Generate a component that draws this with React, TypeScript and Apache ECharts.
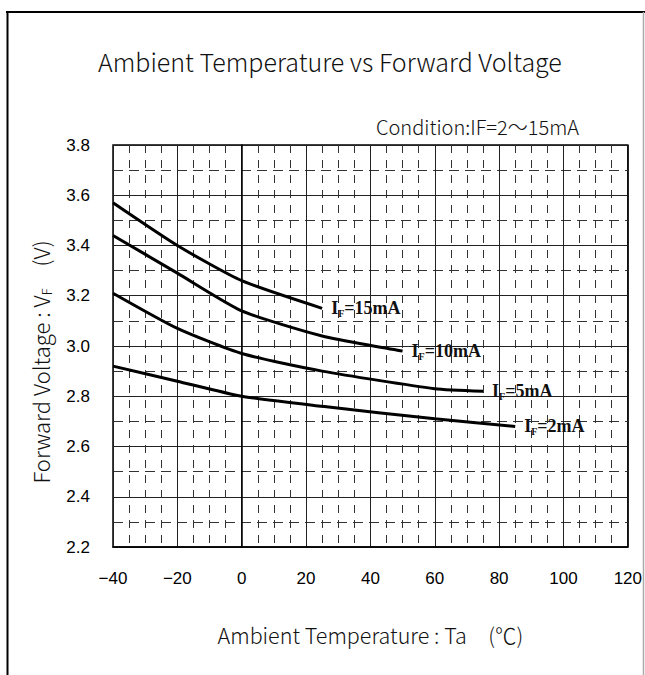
import React, { useEffect, useRef } from 'react';
import * as echarts from 'echarts';

// ---- data ----
const xMin = -40;
const xMax = 120;
const xStep = 20;
const yMin = 2.2;
const yMax = 3.8;
const yStep = 0.2;

const temps15 = [-40, -20, 0, 25];
const volts15 = [3.57, 3.40, 3.26, 3.15];

const temps10 = [-40, -20, 0, 25, 50];
const volts10 = [3.44, 3.29, 3.14, 3.04, 2.98];

const temps5 = [-40, -20, 0, 25, 60, 75];
const volts5 = [3.21, 3.07, 2.97, 2.90, 2.83, 2.82];

const temps2 = [-40, -20, 0, 25, 60, 85];
const volts2 = [2.92, 2.86, 2.80, 2.76, 2.71, 2.68];

const currentLabels = ['15mA', '10mA', '5mA', '2mA'];

const titleText = 'Ambient Temperature vs Forward Voltage';
const conditionText = 'Condition:IF=2～15mA';
const xName = 'Ambient Temperature : Ta　(℃)';
const yNameMain = 'Forward Voltage : V';
const yNameSub = 'F';
const yNameUnit = '　(V)';

const SANS = "'Noto Sans CJK JP', 'Liberation Sans', sans-serif";
const NUM = "'Liberation Sans', Arial, sans-serif";
const SERIF = "'Liberation Serif', 'Times New Roman', serif";

function zip(t: number[], v: number[]) {
  return t.map((x, i) => [x, v[i]]);
}

export default function App() {
  const ref = useRef<HTMLDivElement>(null);
  useEffect(() => {
    document.body.style.margin = '0';
    const chart = echarts.init(ref.current!, null, { renderer: 'svg' });
    const sets = [
      zip(temps15, volts15),
      zip(temps10, volts10),
      zip(temps5, volts5),
      zip(temps2, volts2),
    ];
    const rich = {
      i: { fontFamily: SERIF, fontWeight: 'bold', fontSize: 18, color: '#111', lineHeight: 20 },
      s: { fontFamily: SERIF, fontWeight: 'bold', fontSize: 10, color: '#111', lineHeight: 20, verticalAlign: 'bottom' },
    };
    chart.setOption({
      animation: false,
      backgroundColor: '#fff',
      title: [
        {
          text: titleText,
          left: 93,
          top: 43,
          textStyle: { fontFamily: SANS, fontWeight: 300, fontSize: 25, color: '#111' },
        },
        {
          text: conditionText,
          right: 61,
          top: 111,
          textStyle: { fontFamily: SANS, fontWeight: 300, fontSize: 20, color: '#111' },
        },
      ],
      graphic: [
        { type: 'line', shape: { x1: 6, y1: 12, x2: 645, y2: 12 }, style: { stroke: '#000', lineWidth: 2 } },
        { type: 'line', shape: { x1: 7.5, y1: 11, x2: 7.5, y2: 675 }, style: { stroke: '#000', lineWidth: 2 } },
        { type: 'line', shape: { x1: 643.5, y1: 12, x2: 643.5, y2: 675 }, style: { stroke: '#aaa', lineWidth: 1.5 } },
        {
          type: 'text',
          x: 40,
          y: 362,
          rotation: Math.PI / 2,
          style: {
            text: '{a|' + yNameMain + '}{b|' + yNameSub + '}{a|' + yNameUnit + '}',
            align: 'center',
            verticalAlign: 'middle',
            rich: {
              a: { fontFamily: SANS, fontWeight: 300, fontSize: 22, fill: '#111', color: '#111', lineHeight: 26 },
              b: { fontFamily: SANS, fontWeight: 300, fontSize: 13, fill: '#111', color: '#111', lineHeight: 26, verticalAlign: 'bottom' },
            },
          },
        },
      ],
      grid: {
        left: 113,
        right: 16,
        top: 145,
        bottom: 128,
        show: true,
        borderColor: '#000',
        borderWidth: 1.5,
        backgroundColor: 'transparent',
      },
      xAxis: {
        type: 'value',
        min: xMin,
        max: xMax,
        interval: xStep,
        name: xName,
        nameLocation: 'middle',
        nameGap: 77,
        nameTextStyle: { fontFamily: SANS, fontWeight: 300, fontSize: 21.5, color: '#111' },
        axisLine: { show: true, lineStyle: { color: '#000', width: 1.5 } },
        axisTick: { show: false },
        axisLabel: {
          margin: 23,
          fontFamily: NUM,
          fontSize: 17,
          color: '#000',
          formatter: (v: number) => (v < 0 ? '−' + Math.abs(v) : String(v)),
        },
        splitLine: { show: true, lineStyle: { color: '#222', width: 1 } },
        minorTick: { show: false, splitNumber: 4 },
        minorSplitLine: { show: true, lineStyle: { color: '#333', width: 1, type: [8, 7] } },
      },
      yAxis: {
        type: 'value',
        min: yMin,
        max: yMax,
        interval: yStep,
        axisLine: { show: true, lineStyle: { color: '#000', width: 1.5 } },
        axisTick: { show: false },
        axisLabel: {
          margin: 23,
          fontFamily: NUM,
          fontSize: 17,
          color: '#000',
          formatter: (v: number) => v.toFixed(1),
        },
        splitLine: { show: true, lineStyle: { color: '#222', width: 1 } },
        minorTick: { show: false, splitNumber: 2 },
        minorSplitLine: { show: true, lineStyle: { color: '#333', width: 1, type: [10, 6] } },
      },
      series: sets.map((d, k) => ({
        type: 'line',
        name: currentLabels[k],
        data: d,
        smooth: 0.2,
        symbol: 'none',
        lineStyle: { color: '#000', width: 3 },
        endLabel: {
          show: true,
          distance: 9,
          formatter: '{i|I}{s|F}{i|=' + currentLabels[k] + '}',
          rich,
        },
      })),
    });
    return () => chart.dispose();
  }, []);
  return <div ref={ref} style={{ width: 645, height: 675 }} />;
}
